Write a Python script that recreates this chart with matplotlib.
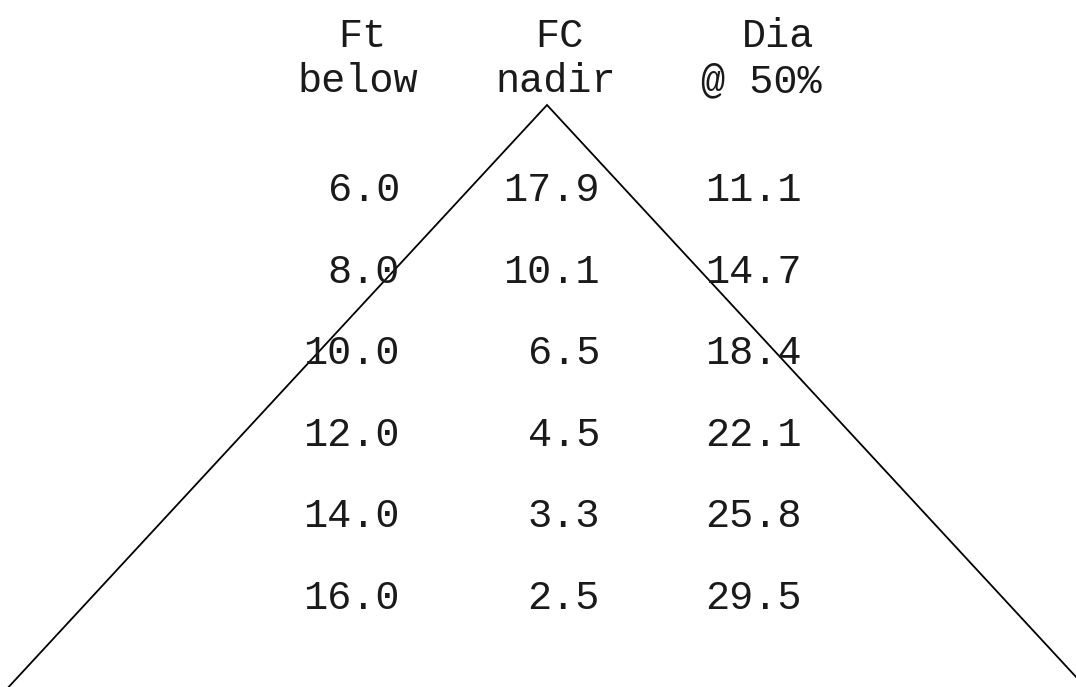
import matplotlib
matplotlib.use("Agg")
import matplotlib.pyplot as plt

# Data
header_top = ["Ft", "FC", "Dia"]
header_bottom = ["below", "nadir", "@ 50%"]
depth_ft = [6.0, 8.0, 10.0, 12.0, 14.0, 16.0]
fc_nadir = [17.9, 10.1, 6.5, 4.5, 3.3, 2.5]
dia_50 = [11.1, 14.7, 18.4, 22.1, 25.8, 29.5]

W, H = 1076, 687
fig = plt.figure(figsize=(W / 100, H / 100), dpi=100)
ax = fig.add_axes([0, 0, 1, 1])
ax.set_xlim(0, W)
ax.set_ylim(H, 0)
ax.axis("off")

font = "Liberation Mono"
fs = 29
tc = "#1a1a1a"

# Beam cone (half-spread ratio from diameter/depth)
apex_x, apex_y = 547, 105
spread = dia_50[0] / depth_ft[0] / 2.0
length = 700
ax.plot([apex_x - spread * length, apex_x, apex_x + spread * length],
        [apex_y + length, apex_y, apex_y + length],
        color="black", lw=1.3, solid_joinstyle="miter")

top_x = [362, 559, 778]
bottom_x = [358, 556, 761]
for tx, bx, t, b in zip(top_x, bottom_x, header_top, header_bottom):
    ax.text(tx, 47, t, ha="center", va="baseline", fontsize=fs,
            family=font, color=tc)
    ax.text(bx, 92, b, ha="center", va="baseline", fontsize=fs,
            family=font, color=tc)

col_right = [400, 600, 802]
row_y0, row_dy = 190, 81.6
cols = [depth_ft, fc_nadir, dia_50]
for i in range(len(depth_ft)):
    y = row_y0 + i * row_dy
    for cx, col in zip(col_right, cols):
        ax.text(cx, y, f"{col[i]:.1f}", ha="right", va="center",
                fontsize=fs, family=font, color=tc)

fig.savefig("out.png", dpi=100, facecolor="white")
